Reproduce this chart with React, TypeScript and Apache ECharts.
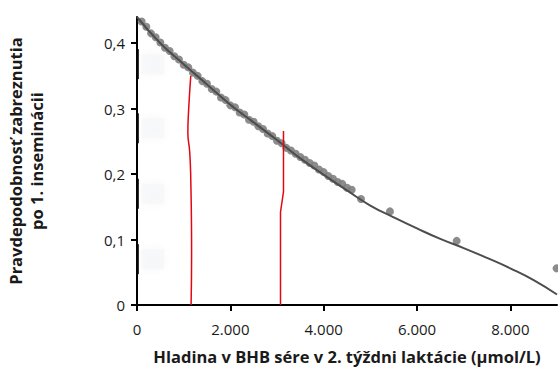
import React, { useEffect, useRef } from "react";
import * as echarts from "echarts";

const xTicks = [0, 2000, 4000, 6000, 8000];
const yTicks = [0, 0.1, 0.2, 0.3, 0.4];

const curveX = [0, 500, 1000, 1500, 2000, 2500, 3000, 3500, 4000, 4500, 5000, 5500, 6000, 6500, 7000, 7500, 8000, 8500, 9000];
const curveY = [0.44, 0.4, 0.368, 0.337, 0.306, 0.279, 0.252, 0.224, 0.199, 0.175, 0.152, 0.134, 0.117, 0.101, 0.087, 0.072, 0.056, 0.038, 0.016];

const dotX = [100, 200, 300, 400, 500, 600, 700, 800, 900, 1000, 1100, 1200, 1300, 1400, 1500, 1600, 1700, 1800, 1900, 2000, 2100, 2200, 2300, 2400, 2500, 2600, 2700, 2800, 2900, 3000, 3100, 3200, 3300, 3400, 3500, 3600, 3700, 3800, 3900, 4000, 4100, 4200, 4300, 4400, 4500, 4600, 4800, 5420, 6850, 8990];
const dotY = [0.433, 0.425, 0.415, 0.409, 0.401, 0.393, 0.388, 0.38, 0.375, 0.367, 0.363, 0.355, 0.35, 0.342, 0.338, 0.33, 0.326, 0.317, 0.313, 0.305, 0.302, 0.294, 0.291, 0.283, 0.28, 0.273, 0.269, 0.262, 0.258, 0.251, 0.247, 0.24, 0.236, 0.231, 0.226, 0.222, 0.217, 0.213, 0.207, 0.203, 0.197, 0.193, 0.188, 0.185, 0.179, 0.176, 0.162, 0.143, 0.098, 0.056];

const red1X = [1159, 1170, 1150, 1128, 1090, 1108, 1152];
const red1Y = [0, 0.08, 0.2, 0.235, 0.263, 0.3, 0.35];
const red2X = [3075, 3075, 3139, 3139];
const red2Y = [0, 0.142, 0.173, 0.266];

const blobX = [343, 343, 343, 343];
const blobY = [0.368, 0.27, 0.17, 0.07];
const barY = [0.368, 0.27, 0.17, 0.07];

const font = "'Open Sans', 'Noto Sans', sans-serif";

function fmtX(v: number) {
  if (v === 0) return "0";
  return String(v).replace(/\B(?=(\d{3})+(?!\d))/g, ".");
}
function fmtY(v: number) {
  if (v === 0) return "0";
  return v.toFixed(1).replace(".", ",");
}

export default function App() {
  const ref = useRef<HTMLDivElement>(null);
  useEffect(() => {
    if (!ref.current) return;
    const chart = echarts.init(ref.current, null, { renderer: "svg" });
    const zip = (xs: number[], ys: number[]) => xs.map((x, i) => [x, ys[i]]);
    chart.setOption({
      animation: false,
      grid: { left: 137, right: 1, top: 17, bottom: 63, containLabel: false, outerBoundsMode: "none" },
      xAxis: {
        type: "value",
        min: 0,
        max: 9000,
        interval: 2000,
        splitLine: { show: false },
        axisLine: { lineStyle: { color: "#000", width: 2 } },
        axisTick: { show: true, length: 6, lineStyle: { color: "#000", width: 2 }, customValues: xTicks },
        axisLabel: { color: "#1a1a1a", fontSize: 15, fontFamily: font, margin: 16, formatter: fmtX, customValues: xTicks },
        name: "Hladina v BHB sére v 2. týždni laktácie (μmol/L)",
        nameLocation: "middle",
        nameGap: 43,
        nameTextStyle: { color: "#1a1a1a", fontSize: 16.5, fontWeight: "bold", fontFamily: font },
      },
      yAxis: {
        type: "value",
        min: 0,
        max: 0.44,
        interval: 0.1,
        splitLine: { show: false },
        axisLine: { show: true, lineStyle: { color: "#000", width: 2 } },
        axisTick: { show: true, length: 6, lineStyle: { color: "#000", width: 2 }, customValues: yTicks },
        axisLabel: { color: "#1a1a1a", fontSize: 15, fontFamily: font, margin: 12, formatter: fmtY, customValues: yTicks },
        name: "Pravdepodobnosť zabreznutia\npo 1. inseminácii",
        nameLocation: "middle",
        nameGap: 90,
        nameTextStyle: { color: "#1a1a1a", fontSize: 16.5, fontWeight: "bold", fontFamily: font, lineHeight: 21 },
      },
      series: [
        {
          type: "scatter",
          data: zip(blobX, blobY),
          symbol: "rect",
          symbolSize: [22, 20],
          itemStyle: { color: "#f6f7f9", shadowBlur: 10, shadowColor: "#f4f5f7" },
          silent: true,
          z: 1,
        },
        {
          type: "scatter",
          data: zip([0, 0, 0, 0], barY),
          symbol: "rect",
          symbolSize: [3, 30],
          symbolOffset: [0.5, 0],
          itemStyle: { color: "#000" },
          silent: true,
          z: 3,
        },
        {
          type: "scatter",
          data: zip(dotX, dotY),
          symbolSize: 8,
          itemStyle: { color: "#808080", opacity: 0.9 },
          z: 4,
        },
        {
          type: "line",
          data: zip(curveX, curveY),
          smooth: true,
          showSymbol: false,
          lineStyle: { color: "#4d4d4d", width: 2 },
          z: 5,
        },
        {
          type: "line",
          data: zip(red1X, red1Y),
          smooth: true,
          showSymbol: false,
          lineStyle: { color: "#e30613", width: 1.5 },
          z: 6,
        },
        {
          type: "line",
          data: zip(red2X, red2Y),
          smooth: false,
          showSymbol: false,
          lineStyle: { color: "#e30613", width: 1.5 },
          z: 6,
        },
      ],
    });
    return () => chart.dispose();
  }, []);
  return <div ref={ref} style={{ width: 558, height: 368, position: "absolute", left: 0, top: 0 }} />;
}
